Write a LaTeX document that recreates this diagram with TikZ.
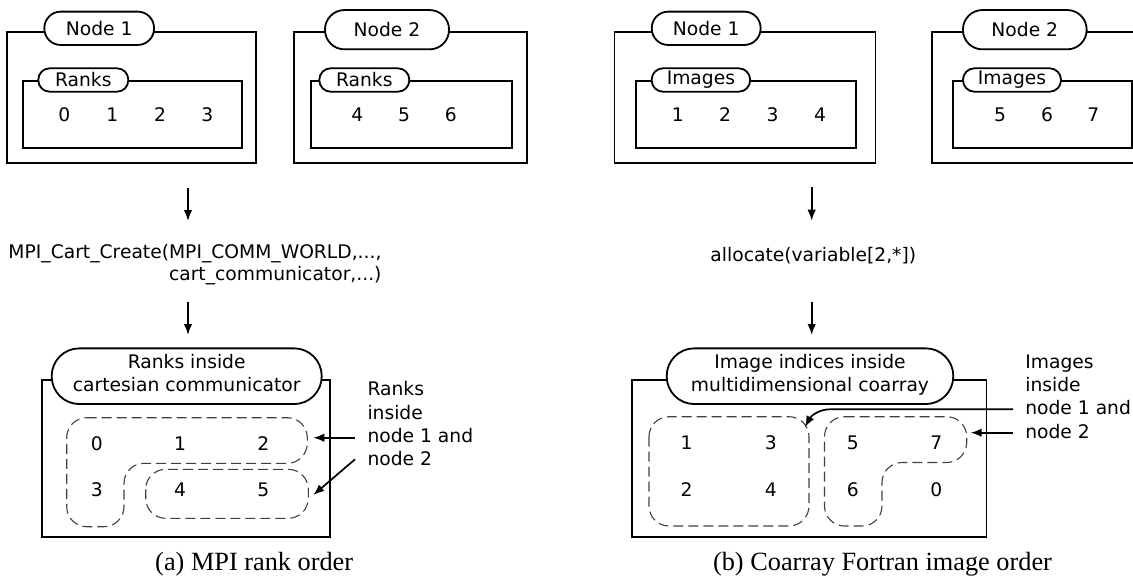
\documentclass[tikz,border=0pt]{standalone}
\usepackage{fontspec}
\setmainfont{DejaVu Sans}
\newfontfamily\capfont{Liberation Serif}
\usetikzlibrary{arrows.meta}

\begin{document}
\begin{tikzpicture}[x=1pt,y=-1pt,
  every node/.style={font=\fontsize{18.7}{23.3}\selectfont, inner sep=0pt},
  frame/.style={draw, line width=1.8pt},
  pill/.style n args={3}{draw, fill=white, line width=1.8pt, rectangle,
    minimum width=#1, minimum height=#2, rounded corners=#3},
  bigpill/.style={pill={#1}{55.7pt}{27.6pt}, align=center,
    font=\fontsize{18.7}{22.4}\selectfont},
  group/.style={draw=black!75, line width=1.1pt, dash pattern=on 10pt off 5pt,
    rounded corners=20pt},
  arr/.style={line width=1.7pt, -{Latex[length=11pt,width=8.5pt]}},
  note/.style={align=left, anchor=west},
  captext/.style={font=\capfont\fontsize{26.3}{30}\selectfont, anchor=base},
]
\path[use as bounding box] (0,0) rectangle (1133,578);
\clip (0,0) rectangle (1133,578);

% ---------------- (a) MPI ----------------
% compute nodes with their ranks
\draw[frame] (7.3,31.7) rectangle (256,163.3);
\draw[frame] (23.3,80.7) rectangle (242,148.3);
\node[pill={109.7pt}{33.3pt}{16.3pt}] (an1) at (99.2,28.3) {Node 1};
\node[pill={90pt}{23.4pt}{11.4pt}] (ar1) at (83.3,80) {Ranks};
\node (at0) at (64.3,115) {0};
\node (at1) at (112.3,115) {1};
\node (at2) at (160,115) {2};
\node (at3) at (207.3,115) {3};

\draw[frame] (294,31.7) rectangle (527,163.3);
\draw[frame] (310.7,80.7) rectangle (512,148.3);
\node[pill={124pt}{39.3pt}{19.4pt}] (an2) at (387,29.7) {Node 2};
\node[pill={90pt}{23.4pt}{11.4pt}] (ar2) at (364.3,80) {Ranks};
\node (at4) at (357.3,115) {4};
\node (at5) at (404,115) {5};
\node (at6) at (450.7,115) {6};

% the call creating the communicator
\coordinate (aa1s) at (188,188);
\coordinate (aa1t) at (188,221);
\draw[arr] (aa1s) -- (aa1t);
\node[align=right, anchor=east, font=\fontsize{18.7}{21.7}\selectfont] (acall) at (381.7,264.3)
  {MPI\_Cart\_Create(MPI\_COMM\_WORLD,...,\\cart\_communicator,...)};
\coordinate (aa2s) at (188,302);
\coordinate (aa2t) at (188,335);
\draw[arr] (aa2s) -- (aa2t);

% ranks inside the cartesian communicator
\draw[frame] (41.7,380) rectangle (330,536.7);
\node[bigpill={270pt}] (acart) at (186.7,376.2) {Ranks inside\\cartesian communicator\strut};
\node (ab0) at (96.7,443.3) {0};
\node (ab1) at (180,443.3) {1};
\node (ab2) at (263.3,443.3) {2};
\node (ab3) at (96.7,490) {3};
\node (ab4) at (180,490) {4};
\node (ab5) at (263.3,490) {5};
\draw[group] (66.7,417.7) -- (307.3,417.7) -- (307.3,463.3) -- (124,463.3)
  -- (124,526.7) -- (66.7,526.7) -- cycle;
\draw[group] (145.7,469.3) rectangle (308.3,518.3);

\node[note] (anote) at (367.3,423.9) {Ranks\\inside\\node 1 and\\node 2};
\coordinate (ap1s) at (355,437.7);
\coordinate (ap1t) at (313.3,437.7);
\coordinate (ap2s) at (355,459.3);
\coordinate (ap2t) at (313.3,495);
\draw[arr] (ap1s) -- (ap1t);
\draw[arr] (ap2s) -- (ap2t);

\node[captext] (acap) at (254.2,570) {(a) MPI rank order};

% ---------------- (b) Coarray Fortran ----------------
\draw[frame] (614.4,31.7) rectangle (875.4,163.3);
\draw[frame] (636.2,80.7) rectangle (855.7,148.3);
\node[pill={108.8pt}{33.3pt}{16.3pt}] (bn1) at (706.2,28.3) {Node 1};
\node[pill={98.5pt}{23.4pt}{11.4pt}] (bi1) at (700.9,80) {Images};
\node (bt1) at (677.8,115) {1};
\node (bt2) at (725,115) {2};
\node (bt3) at (772.5,115) {3};
\node (bt4) at (820,115) {4};

\draw[frame] (932.3,31.7) rectangle (1150,163.3);
\draw[frame] (953.3,80.7) rectangle (1131.7,148.3);
\node[pill={123.7pt}{39.3pt}{19.4pt}] (bn2) at (1024.8,29.7) {Node 2};
\node[pill={98pt}{23.4pt}{11.4pt}] (bi2) at (1012,80) {Images};
\node (bt5) at (1000,115) {5};
\node (bt6) at (1047,115) {6};
\node (bt7) at (1093.3,115) {7};

\coordinate (ba1s) at (811.7,187);
\coordinate (ba1t) at (811.7,220.7);
\draw[arr] (ba1s) -- (ba1t);
\node[anchor=base] (balloc) at (813.3,261.7) {allocate(variable[2,*])};
\coordinate (ba2s) at (811.7,301.7);
\coordinate (ba2t) at (811.7,335);
\draw[arr] (ba2s) -- (ba2t);

\draw[frame] (632.3,380) rectangle (986.5,536.7);
\node[bigpill={286.6pt}] (bco) at (810,376.2) {Image indices inside\\multidimensional coarray\strut};
\node (bb1) at (686.5,443) {1};
\node (bb3) at (770.8,443) {3};
\node (bb5) at (852.7,443) {5};
\node (bb7) at (936.2,443) {7};
\node (bb2) at (686.5,490) {2};
\node (bb4) at (770.8,490) {4};
\node (bb6) at (852.7,490) {6};
\node (bb0) at (936.2,490) {0};
\draw[group] (649,416.7) rectangle (809,526);
\draw[group] (824.5,416.7) -- (966.7,416.7) -- (966.7,462.5) -- (882,462.5)
  -- (882,526) -- (824.5,526) -- cycle;

\node[note] (bnote) at (1025.1,396.5) {Images\\inside\\node 1 and\\node 2};
\coordinate (bp1s) at (1013,409.3);
\coordinate (bp1t) at (805,427);
\coordinate (bp2s) at (1013,432.7);
\coordinate (bp2t) at (970.7,432.7);
\draw[arr] (bp1s) -- (830,409.3) .. controls (819,409.3) and (811,416) .. (bp1t);
\draw[arr] (bp2s) -- (bp2t);

\node[captext] (bcap) at (882.5,570) {(b) Coarray Fortran image order};
\end{tikzpicture}
\end{document}
